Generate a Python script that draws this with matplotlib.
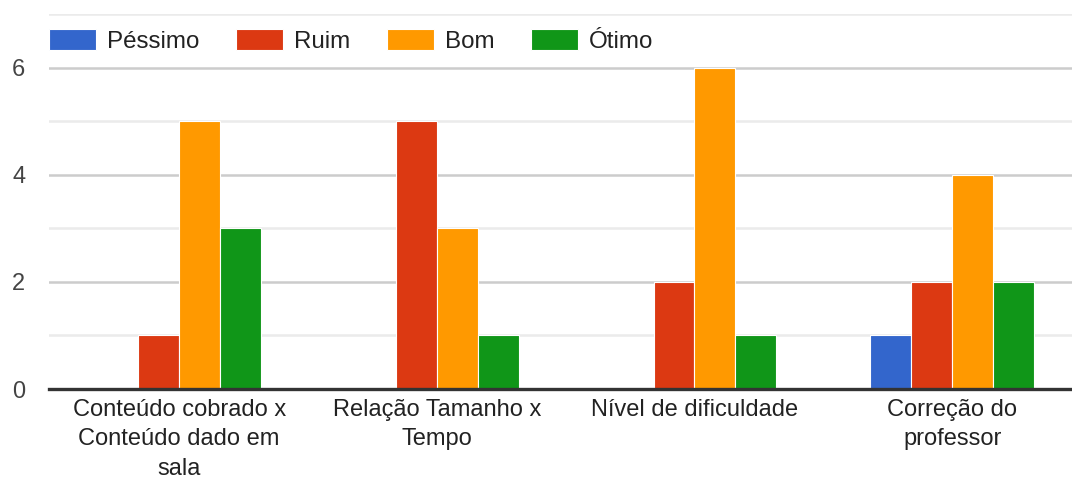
import numpy as np
import matplotlib
matplotlib.use('Agg')
import matplotlib.pyplot as plt

plt.rcParams['font.family'] = ['Liberation Sans', 'DejaVu Sans']

categories = ['Conteúdo cobrado x\nConteúdo dado em\nsala', 'Relação Tamanho x\nTempo',
              'Nível de dificuldade', 'Correção do\nprofessor']
series_names = ['Péssimo', 'Ruim', 'Bom', 'Ótimo']
pessimo = [0, 0, 0, 1]
ruim = [1, 5, 2, 2]
bom = [5, 3, 6, 4]
otimo = [3, 1, 1, 2]
colors = ['#3366cc', '#dc3912', '#ff9900', '#109618']

fig = plt.figure(figsize=(10.72, 4.79), dpi=100)
ax = fig.add_axes([49 / 1072, 90 / 479, (1072 - 49) / 1072, 375 / 479])

x = np.arange(len(categories))
step = 0.159
for i, (name, vals) in enumerate(zip(series_names, [pessimo, ruim, bom, otimo])):
    ax.bar(x + (i - 1.5) * step, vals, step, color=colors[i], label=name,
           edgecolor='white', linewidth=0.8, zorder=2)

ax.set_xlim(-0.505, 3.465)
ax.set_ylim(0, 7)
ax.set_yticks([0, 2, 4, 6])
ax.set_yticks([1, 3, 5, 7], minor=True)
ax.grid(axis='y', which='major', color='#cccccc', linewidth=1.8, zorder=0)
ax.grid(axis='y', which='minor', color='#ebebeb', linewidth=1.8, zorder=0)
ax.axhline(0, color='#333333', linewidth=2.4, zorder=3, clip_on=False)
for s in ax.spines.values():
    s.set_visible(False)

ax.set_xticks(x)
ax.set_xticklabels(categories, fontsize=17, color='#222222', linespacing=1.45)
ax.tick_params(axis='x', length=0, pad=7)
ax.tick_params(axis='y', which='both', length=0, pad=17, labelsize=17, labelcolor='#444444')

fig.legend(loc='center left', bbox_to_anchor=(49 / 1072, 1 - 41 / 479), ncol=4,
           frameon=False, fontsize=17.4, handlelength=1.95, handleheight=0.92,
           handletextpad=0.46, columnspacing=1.5, borderpad=0, borderaxespad=0,
           labelcolor='#222222')

fig.savefig('out.png', dpi=100)
